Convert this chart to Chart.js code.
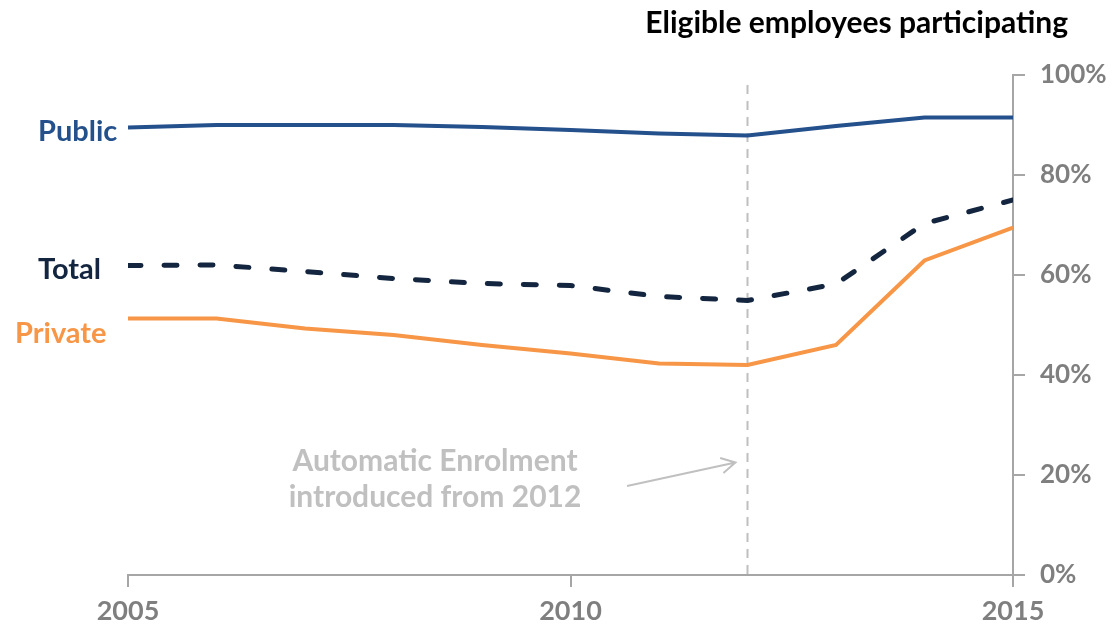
<!DOCTYPE html>
<html>
<head>
<meta charset="utf-8">
<script src="https://cdn.jsdelivr.net/npm/chart.js@4.4.1/dist/chart.umd.min.js"></script>
<style>
  html, body { margin: 0; padding: 0; background: #fff; }
  #wrap { width: 1118px; height: 628px; position: relative; }
</style>
</head>
<body>
<div id="wrap"><canvas id="myChart"></canvas></div>
<script>
const years = [2005, 2006, 2007, 2008, 2009, 2010, 2011, 2012, 2013, 2014, 2015];
const publicSector = [89.5, 90, 90, 90, 89.6, 89, 88.3, 87.9, 89.8, 91.5, 91.5];
const totalAll = [61.9, 62, 60.7, 59.3, 58.3, 57.9, 55.7, 54.9, 58.2, 70.3, 75];
const privateSector = [51.3, 51.3, 49.3, 48, 46, 44.3, 42.3, 42, 46, 62.9, 69.5];
const yTicks = [0, 20, 40, 60, 80, 100];
const xTicks = [2005, 2010, 2015];
const markerYear = 2012;

const FONT = 'Lato, "Open Sans", sans-serif';
const GREY = '#7f7f7f';

const toPoints = (arr) => arr.map((v, i) => ({ x: years[i], y: v }));

// series names on the left plus the auto-enrolment note and the title
const extras = {
    id: 'extras',
    beforeDatasetsDraw(chart) {
        const { ctx, scales: { x }, chartArea } = chart;
        const mx = x.getPixelForValue(markerYear);
        ctx.save();
        ctx.strokeStyle = '#bfbfbf';
        ctx.lineWidth = 2;
        ctx.setLineDash([9, 7]);
        ctx.beginPath();
        ctx.moveTo(mx, chartArea.top + 10);
        ctx.lineTo(mx, chartArea.bottom);
        ctx.stroke();
        ctx.restore();
    },
    afterDraw(chart) {
        const { ctx, scales: { x, y } } = chart;
        const names = [
            { text: 'Public', color: '#24508c', v: publicSector[0], left: 38, dy: 4 },
            { text: 'Total', color: '#13253f', v: totalAll[0], left: 38, dy: 4 },
            { text: 'Private', color: '#f79646', v: privateSector[0], left: 15, dy: 15 }
        ];
        ctx.save();
        ctx.font = 'bold 29px ' + FONT;
        ctx.textBaseline = 'middle';
        ctx.textAlign = 'left';
        names.forEach(n => {
            ctx.fillStyle = n.color;
            ctx.fillText(n.text, n.left, y.getPixelForValue(n.v) + n.dy);
        });

        ctx.font = 'bold 30px ' + FONT;
        ctx.fillStyle = '#000';
        ctx.textAlign = 'right';
        ctx.fillText('Eligible employees participating', 1068, 23);

        ctx.fillStyle = '#c0c0c0';
        ctx.textAlign = 'center';
        ctx.fillText('Automatic Enrolment', 435, 461);
        ctx.fillText('introduced from 2012', 435, 497);

        // arrow pointing at the 2012 line
        const ax = x.getPixelForValue(markerYear) - 12;
        const ay = y.getPixelForValue(22.5);
        const sx = 627, sy = 486;
        const ang = Math.atan2(ay - sy, ax - sx);
        ctx.strokeStyle = '#c0c0c0';
        ctx.lineWidth = 2;
        ctx.beginPath();
        ctx.moveTo(sx, sy);
        ctx.lineTo(ax, ay);
        ctx.moveTo(ax - 16 * Math.cos(ang - 0.5), ay - 16 * Math.sin(ang - 0.5));
        ctx.lineTo(ax, ay);
        ctx.lineTo(ax - 16 * Math.cos(ang + 0.5), ay - 16 * Math.sin(ang + 0.5));
        ctx.stroke();
        ctx.restore();
    }
};

const chart = new Chart(document.querySelector('#myChart'), {
    type: 'line',
    data: {
        datasets: [
            {
                label: 'Public',
                data: toPoints(publicSector),
                borderColor: '#24508c',
                borderWidth: 4,
                pointRadius: 0,
                tension: 0
            },
            {
                label: 'Total',
                data: toPoints(totalAll),
                borderColor: '#13253f',
                borderWidth: 5,
                borderDash: [13, 23],
                borderCapStyle: 'round',
                pointRadius: 0,
                tension: 0
            },
            {
                label: 'Private',
                data: toPoints(privateSector),
                borderColor: '#f79646',
                borderWidth: 4,
                pointRadius: 0,
                tension: 0
            }
        ]
    },
    options: {
        responsive: true,
        maintainAspectRatio: false,
        animation: false,
        layout: { padding: { left: 128, top: 75, right: 0, bottom: 0 } },
        plugins: {
            legend: { display: false },
            tooltip: { enabled: false }
        },
        scales: {
            x: {
                type: 'linear',
                min: years[0],
                max: years[years.length - 1],
                afterBuildTicks: (axis) => { axis.ticks = xTicks.map(v => ({ value: v })); },
                afterFit: (axis) => { axis.height = 53; },
                grid: {
                    drawOnChartArea: false,
                    drawTicks: true,
                    tickLength: 12,
                    color: '#a6a6a6',
                    lineWidth: 2
                },
                border: { color: '#a6a6a6', width: 2 },
                ticks: {
                    color: GREY,
                    padding: 8,
                    maxRotation: 0,
                    font: { family: FONT, size: 27, weight: 'bold' },
                    callback: (v) => String(v)
                }
            },
            y: {
                position: 'right',
                min: 0,
                max: 100,
                afterBuildTicks: (axis) => { axis.ticks = yTicks.map(v => ({ value: v })); },
                afterFit: (axis) => { axis.width = 105; },
                grid: {
                    drawOnChartArea: false,
                    drawTicks: true,
                    tickLength: 12,
                    color: '#a6a6a6',
                    lineWidth: 2
                },
                border: { color: '#a6a6a6', width: 2 },
                ticks: {
                    color: GREY,
                    padding: 15,
                    font: { family: FONT, size: 26, weight: 'bold' },
                    callback: (v) => v + '%'
                }
            }
        }
    },
    plugins: [extras]
});
</script>
</body>
</html>
